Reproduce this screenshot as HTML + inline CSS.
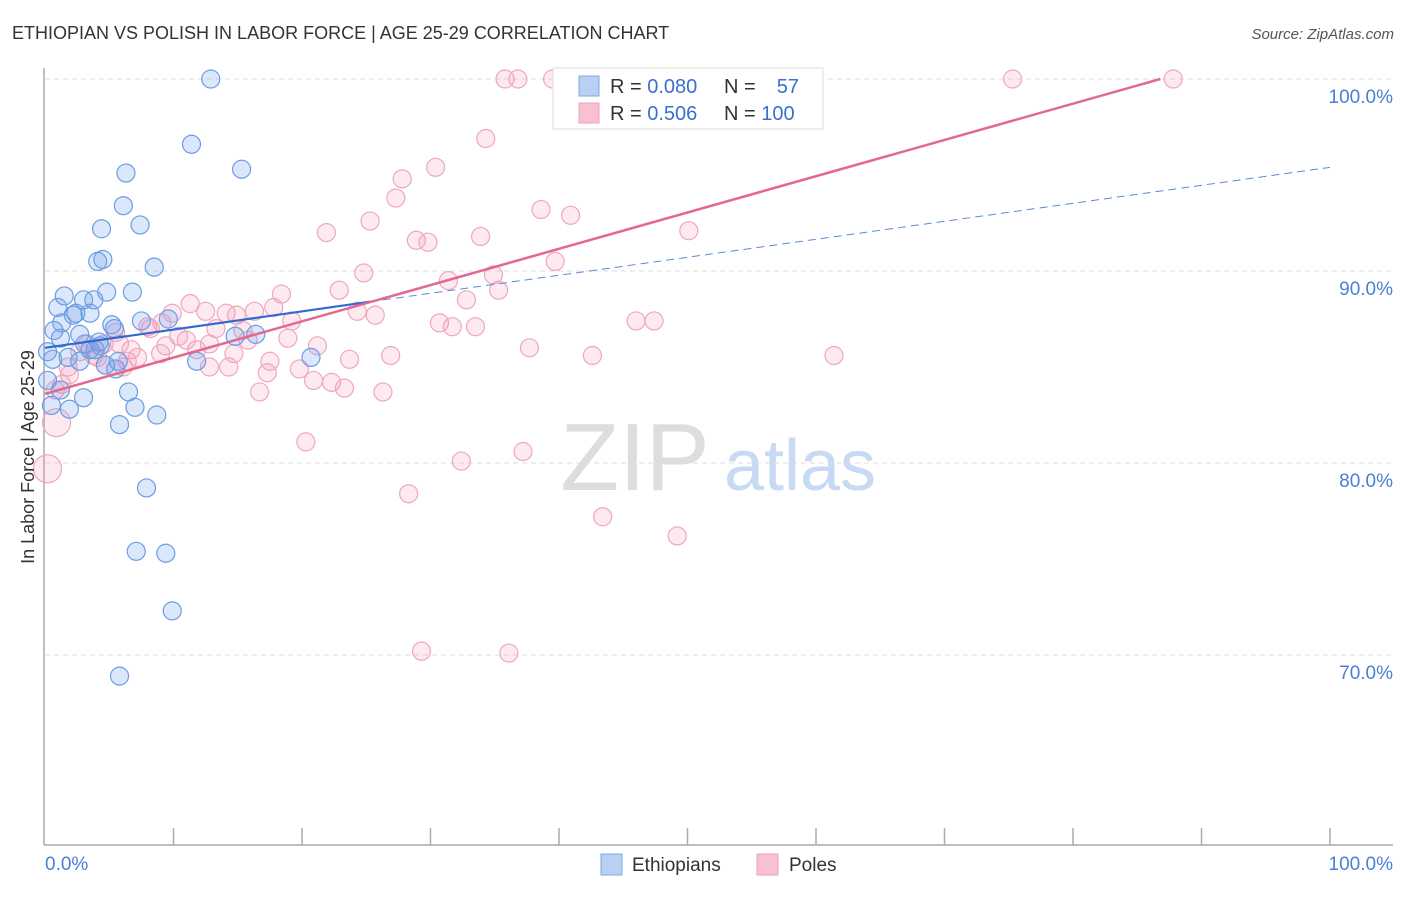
<!DOCTYPE html>
<html><head><meta charset="utf-8">
<style>
body{margin:0;background:#fff;font-family:"Liberation Sans",sans-serif;}
svg text{font-family:"Liberation Sans",sans-serif;}
</style></head>
<body>
<svg id="chart" width="1406" height="892" viewBox="0 0 1406 892" xmlns="http://www.w3.org/2000/svg">
<text x="12" y="39" font-size="18" fill="#333">ETHIOPIAN VS POLISH IN LABOR FORCE | AGE 25-29 CORRELATION CHART</text>
<text x="1394" y="39" font-size="15" fill="#555" text-anchor="end" font-style="italic">Source: ZipAtlas.com</text>
<g>
<text x="635" y="490" font-size="96" fill="#ddd" font-family="Liberation Serif" text-anchor="middle">ZIP</text>
<text x="800" y="490" font-size="72" fill="#c8daf3" text-anchor="middle">atlas</text>
</g>
<g id="grid"></g>
<g id="axes"></g>
<g id="pts"></g>
<g id="trends"></g>
<text transform="translate(34,457) rotate(-90)" font-size="18" fill="#333" text-anchor="middle">In Labor Force | Age 25-29</text>
<g>
<rect x="553" y="68" width="270" height="61" fill="#fff" stroke="#ddd"/>
<rect x="579" y="76" width="20" height="20" fill="#b8d0f4" stroke="#7fa8e4"/>
<rect x="579" y="103" width="20" height="20" fill="#f8c0d0" stroke="#f0a0b8"/>
<text x="610" y="93" font-size="20" fill="#333">R = <tspan fill="#3a6fd0">0.080</tspan></text>
<text x="724" y="93" font-size="20" fill="#333">N = </text><text x="799" y="93" font-size="20" fill="#3a6fd0" text-anchor="end">57</text>
<text x="610" y="120" font-size="20" fill="#333">R = <tspan fill="#3a6fd0">0.506</tspan></text>
<text x="724" y="120" font-size="20" fill="#333">N = <tspan fill="#3a6fd0">100</tspan></text>
</g>
<g>
<rect x="601" y="854" width="21" height="21" fill="#b8d0f4" stroke="#7fa8e4"/>
<text x="632" y="871" font-size="19" fill="#333">Ethiopians</text>
<rect x="757" y="854" width="21" height="21" fill="#f8c0d0" stroke="#f0a0b8"/>
<text x="789" y="871" font-size="19" fill="#333">Poles</text>
</g>
</svg>
<script>
const yTicks=[100,90,80,70];
const yTickLabels=["100.0%","90.0%","80.0%","70.0%"];
const xTickLabels=["0.0%","100.0%"];
const blueX=[12.9,11.4,15.3,6.3,6.1,7.4,4.4,4.1,4.5,8.5,1.5,6.8,4.8,3.0,3.8,1.0,2.4,3.5,1.3,2.2,0.7,7.5,9.6,5.2,5.4,16.4,14.8,0.2,1.2,2.7,4.3,3.9,3.1,0.6,1.8,2.7,4.7,5.7,5.5,11.8,20.7,0.2,6.5,3.0,1.9,7.0,8.7,5.8,7.9,7.1,9.4,9.9,5.8,0.5,1.2,4.2,3.5];
const blueY=[100,96.6,95.3,95.1,93.4,92.4,92.2,90.5,90.6,90.2,88.7,88.9,88.9,88.5,88.5,88.1,87.8,87.8,87.3,87.7,86.9,87.4,87.5,87.2,87.0,86.7,86.6,85.8,86.5,86.7,86.1,85.9,86.2,85.4,85.5,85.3,85.1,85.3,84.9,85.3,85.5,84.3,83.7,83.4,82.8,82.9,82.5,82.0,78.7,75.4,75.3,72.3,68.9,83.0,83.8,86.3,85.9];
const pinkX=[35.8,36.8,39.5,44.9,51.6,55.4,75.3,87.8,34.3,30.4,27.8,27.3,38.6,40.9,25.3,21.9,28.9,29.8,33.9,50.1,39.7,24.8,31.4,34.9,35.3,32.8,22.9,18.4,11.3,9.9,8.0,9.1,12.5,14.1,14.9,16.3,17.8,19.2,25.7,24.3,30.7,31.7,33.5,46.0,47.4,13.3,15.4,11.0,12.8,9.4,6.7,5.8,4.6,3.3,2.7,18.9,21.2,37.7,42.6,61.4,26.9,23.7,19.8,14.3,17.3,12.8,6.4,6.1,4.7,20.9,22.3,23.3,26.3,16.7,1.8,1.3,0.8,0.9,0.2,20.3,32.4,37.2,28.3,43.4,49.2,29.3,36.1,9.0,11.8,4.1,8.2,10.4,14.7,15.8,17.5,1.9,5.5,3.8,7.2];
const pinkY=[100,100,100,100,100,100,100,100,96.9,95.4,94.8,93.8,93.2,92.9,92.6,92.0,91.6,91.5,91.8,92.1,90.5,89.9,89.5,89.8,89.0,88.5,89.0,88.8,88.3,87.8,87.1,87.3,87.9,87.8,87.7,87.9,88.1,87.4,87.7,87.9,87.3,87.1,87.1,87.4,87.4,87.0,86.9,86.4,86.2,86.1,85.9,86.2,86.2,86.2,85.8,86.5,86.1,86.0,85.6,85.6,85.6,85.4,84.9,85.0,84.7,85.0,85.3,85.0,85.1,84.3,84.2,83.9,83.7,83.7,85.0,84.1,83.8,82.1,79.7,81.1,80.1,80.6,78.4,77.2,76.2,70.2,70.1,85.7,85.9,85.5,87.0,86.6,85.7,86.4,85.3,84.6,86.8,85.6,85.5];
const blueTrend=[[0,86.0],[25.3,88.4],[100,95.4]];
const pinkTrend=[[0,83.6],[86.8,100]];
const NS="http://www.w3.org/2000/svg";
const X0=45,X1=1330,Y100=79,PX10=192;
function sx(v){return X0+(X1-X0)*v/100;}
function sy(v){return Y100+(100-v)*PX10/10;}
function mk(tag,attrs,parent){const e=document.createElementNS(NS,tag);for(const k in attrs)e.setAttribute(k,attrs[k]);parent.appendChild(e);return e;}
const grid=document.getElementById('grid'),axes=document.getElementById('axes'),pts=document.getElementById('pts'),tr=document.getElementById('trends');
yTicks.forEach((t,i)=>{
  const l=mk('line',{x1:45,x2:1393,y1:sy(t),y2:sy(t),stroke:'#ddd','stroke-dasharray':'5,4'},grid);
  
  
  const tx=mk('text',{x:1393,y:sy(t)+24,'font-size':19,fill:'#4a7fd6','text-anchor':'end'},axes);
  tx.textContent=yTickLabels[i];
  
  
});
mk('line',{x1:44,x2:44,y1:68,y2:845,stroke:'#aaa','stroke-width':1.5},axes);
mk('line',{x1:44,x2:1393,y1:845,y2:845,stroke:'#aaa','stroke-width':1.5},axes);
for(let i=1;i<=10;i++){const x=sx(i*10);const t=mk('line',{x1:x,x2:x,y1:828,y2:845,stroke:'#aaa','stroke-width':1.5},axes);}
const xl0=mk('text',{x:45,y:870,'font-size':19,fill:'#4a7fd6'},axes);xl0.textContent=xTickLabels[0];


const xl1=mk('text',{x:1393,y:870,'font-size':19,fill:'#4a7fd6','text-anchor':'end'},axes);xl1.textContent=xTickLabels[1];


pinkX.forEach((v,i)=>{
  const big=(v<1.5 && pinkY[i]<83);
  const c=mk('circle',{cx:sx(v),cy:sy(pinkY[i]),r:big?14:9,fill:'rgba(244,150,180,0.2)',stroke:'#f0a6bd','stroke-width':1.2},pts);
  
  
});
blueX.forEach((v,i)=>{
  const c=mk('circle',{cx:sx(v),cy:sy(blueY[i]),r:9,fill:'rgba(110,160,235,0.25)',stroke:'#6c9de2','stroke-width':1.2},pts);
  
  
});
const b1=mk('line',{x1:sx(blueTrend[0][0]),y1:sy(blueTrend[0][1]),x2:sx(blueTrend[1][0]),y2:sy(blueTrend[1][1]),stroke:'#2f6ad0','stroke-width':2.2},tr);


const b2=mk('line',{x1:sx(blueTrend[1][0]),y1:sy(blueTrend[1][1]),x2:sx(blueTrend[2][0]),y2:sy(blueTrend[2][1]),stroke:'#5a8ad8','stroke-width':1,'stroke-dasharray':'8,5'},tr);


const p1=mk('line',{x1:sx(pinkTrend[0][0]),y1:sy(pinkTrend[0][1]),x2:sx(pinkTrend[1][0]),y2:sy(pinkTrend[1][1]),stroke:'#e4678f','stroke-width':2.5},tr);


</script>
</body></html>
